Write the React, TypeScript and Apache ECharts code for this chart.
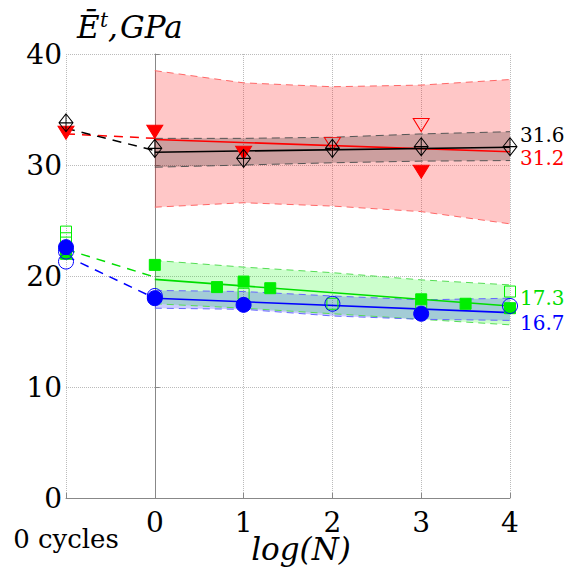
import React, { useEffect, useRef } from 'react';
import * as echarts from 'echarts';

// ---------- data ----------
const baselineLabel = '0 cycles';
const baselineX = -1;
const yTitleMain = 'Ē';
const yTitleSup = 't';
const yTitleComma = ',';
const yTitleUnit = 'GPa';
const xTitle = 'log(N)';

const bandX = [0, 1, 2, 3, 4];
const redHi = [38.5, 37.4, 37.05, 37.2, 37.7];
const redLo = [26.2, 26.6, 26.3, 25.8, 24.7];
const blackHi = [32.4, 32.4, 32.5, 32.8, 33.0];
const blackLo = [29.8, 30.0, 30.2, 30.35, 30.4];
const greenHi = [21.4, 20.8, 20.3, 19.65, 19.2];
const greenLo = [17.5, 17.1, 16.6, 16.1, 15.6];
const blueHi = [18.7, 18.6, 18.2, 17.85, 18.0];
const blueLo = [17.1, 17.0, 16.4, 16.1, 16.0];

const fitX = [0, 4];
const redFit = [32.3, 31.2];
const blackFit = [31.15, 31.6];
const greenFit = [19.7, 17.3];
const blueFit = [18.0, 16.7];

const linkX = [-1, 0];
const redLink = [32.8, 32.4];
const blackLink = [33.3, 31.3];
const greenLink = [22.4, 19.9];
const blueLink = [21.8, 18.0];

const redFilled = [[-1, 32.9], [0, 33.0], [1, 31.1], [3, 29.4]];
const redOpen = [[2, 31.9], [3, 33.6]];
const blackDiamonds = [[-1, 33.8], [0, 31.5], [1, 30.6], [2, 31.5], [3, 31.65], [4, 31.65]];
const greenFilled = [[-1, 22.0], [0, 21.0], [0.7, 19.0], [1, 19.5], [1.3, 18.9], [3, 17.9], [3.5, 17.5], [4, 17.1]];
const greenOpen = [[-1, 24.0], [-1, 23.4], [1, 18.4], [2, 17.5], [3, 17.2], [4, 18.6]];
const blueFilled = [[-1, 22.6], [0, 18.0], [1, 17.4], [3, 16.6]];
const blueOpen = [[-1, 22.2], [-1, 21.3], [0, 18.2], [2, 17.5], [4, 17.3]];

// ---------- helpers ----------
const SERIF = 'DejaVu Serif';
const pair = (xs: number[], ys: number[]) => xs.map((x, i) => [x, ys[i]]);

function band(lo: number[], hi: number[], fill: string) {
  return {
    type: 'custom',
    silent: true,
    z: 1,
    data: bandX.map((x, i) => [x, lo[i], hi[i]]),
    encode: { x: 0, y: [1, 2] },
    renderItem: (params: any, api: any) => {
      if (params.dataIndex !== 0) return null;
      const pts: number[][] = [];
      for (let i = 0; i < bandX.length; i++) pts.push(api.coord([bandX[i], hi[i]]));
      for (let i = bandX.length - 1; i >= 0; i--) pts.push(api.coord([bandX[i], lo[i]]));
      return { type: 'polygon', shape: { points: pts }, style: { fill } };
    },
  };
}

function edge(ys: number[], color: string, dash: number[]) {
  return {
    type: 'line', silent: true, z: 2, symbol: 'none',
    data: pair(bandX, ys),
    lineStyle: { color, width: 1, type: dash },
  };
}

function link(ys: number[], color: string) {
  return {
    type: 'line', silent: true, z: 3, symbol: 'none',
    data: pair(linkX, ys),
    lineStyle: { color, width: 1.5, type: [9, 7] },
  };
}

function fit(ys: number[], color: string, dy: number) {
  return {
    type: 'line', silent: true, z: 3, symbol: 'none',
    data: pair(fitX, ys),
    lineStyle: { color, width: 1.6 },
    endLabel: {
      show: true,
      formatter: (p: any) => Number(p.value[1]).toFixed(1),
      color, fontSize: 20, fontFamily: SERIF,
      distance: 10, offset: [0, dy],
    },
  };
}

function marks(data: number[][], symbol: string, size: any, fill: string, stroke: string, rotate = 0) {
  return {
    type: 'scatter', silent: true, z: 4,
    data, symbol, symbolSize: size, symbolRotate: rotate,
    itemStyle: { color: fill, borderColor: stroke, borderWidth: 1, opacity: 1 },
  };
}

const DIAMOND_PLUS = 'path://M5,0 L10,7 L5,14 L0,7 Z M5,0 L5,14 M0,7 L10,7';

function titleText(text: string, x: number, y: number, size: number) {
  return {
    type: 'text', x, y, silent: true,
    style: {
      text, fontSize: size, fontStyle: 'italic', fontFamily: SERIF, fill: '#000',
      align: 'left', verticalAlign: 'middle',
    },
  };
}

export default function App() {
  const ref = useRef<HTMLDivElement>(null);
  useEffect(() => {
    if (!ref.current) return;
    const chart = echarts.init(ref.current, null, { renderer: 'svg' });
    const none = 'rgba(0,0,0,0)';
    chart.setOption({
      animation: false,
      backgroundColor: '#fff',
      grid: { left: 66, top: 54, right: 60, bottom: 77, outerBoundsMode: 'none', containLabel: false },
      xAxis: {
        type: 'value', min: -1, max: 4, interval: 1,
        name: xTitle, nameLocation: 'middle', nameGap: 35, nameMoveOverlap: false,
        nameTextStyle: {
          fontSize: 31, fontStyle: 'italic', fontFamily: SERIF, color: '#000',
          padding: [0, 0, 0, 26],
        },
        axisLine: { show: true, lineStyle: { color: '#888', width: 1 } },
        axisTick: { show: true, inside: true, length: 5, lineStyle: { color: '#888' } },
        splitLine: { show: true, lineStyle: { color: '#bbb', type: 'dotted', width: 1 } },
        axisLabel: {
          fontSize: 28, fontFamily: SERIF, color: '#000', margin: 10,
          showMinLabel: true, showMaxLabel: true,
          formatter: (v: number) => (v === baselineX ? '' : String(v)),
        },
      },
      yAxis: {
        type: 'value', min: 0, max: 40, interval: 10,
        axisLine: { show: true, lineStyle: { color: '#888', width: 1 } },
        axisTick: { show: true, inside: true, length: 5, lineStyle: { color: '#888' } },
        splitLine: { show: true, lineStyle: { color: '#bbb', type: 'dotted', width: 1 } },
        axisLabel: { fontSize: 28, fontFamily: SERIF, color: '#000', margin: 4 },
      },
      graphic: [
        titleText(yTitleMain, 77, 27, 31),
        titleText(yTitleSup, 100, 20, 20),
        titleText(yTitleComma, 108, 27, 31),
        titleText(yTitleUnit, 120, 27, 31),
      ],
      series: [
        band(redLo, redHi, 'rgba(255,0,0,0.22)'),
        band(blackLo, blackHi, 'rgba(0,0,0,0.2)'),
        band(greenLo, greenHi, 'rgba(0,255,0,0.2)'),
        band(blueLo, blueHi, 'rgba(0,0,255,0.2)'),
        edge(redHi, '#ff6666', [7, 5]),
        edge(redLo, '#ff6666', [7, 5]),
        edge(blackHi, '#555', [8, 5]),
        edge(blackLo, '#555', [8, 5]),
        edge(greenHi, '#55dd55', [7, 5]),
        edge(greenLo, '#55dd55', [7, 5]),
        edge(blueHi, '#6666ff', [7, 5]),
        edge(blueLo, '#6666ff', [7, 5]),
        link(redLink, '#ff0000'),
        link(blackLink, '#000'),
        link(greenLink, '#00dd00'),
        link(blueLink, '#0000ff'),
        fit(redFit, '#ff0000', 6),
        fit(blackFit, '#000000', -12),
        fit(greenFit, '#00dd00', -8),
        fit(blueFit, '#0000ff', 10),
        marks(greenOpen, 'rect', 11, none, '#00ee00'),
        marks(greenFilled, 'rect', 11, '#00ee00', '#00ee00'),
        marks(blueFilled, 'circle', 15, '#0000ff', '#0000ff'),
        marks(blueOpen, 'circle', 15, none, '#0000ff'),
        marks(redFilled, 'triangle', [16, 13], '#ff0000', '#ff0000', 180),
        marks(redOpen, 'triangle', [16, 13], none, '#ff0000', 180),
        marks(blackDiamonds, DIAMOND_PLUS, [14, 18], none, '#000'),
      ],
    });
    // place the baseline ("0 cycles") tick label under x = -1 using the axis scale
    const p = chart.convertToPixel({ xAxisIndex: 0, yAxisIndex: 0 }, [baselineX, 0]) as number[];
    if (p && isFinite(p[0])) {
      chart.setOption({
        graphic: [
          titleText(yTitleMain, 77, 27, 31),
          titleText(yTitleSup, 100, 20, 20),
          titleText(yTitleComma, 108, 27, 31),
          titleText(yTitleUnit, 120, 27, 31),
          {
            type: 'text', x: p[0], y: p[1] + 41, silent: true,
            style: {
              text: baselineLabel, fontSize: 26, fontFamily: SERIF, fill: '#000',
              align: 'center', verticalAlign: 'middle',
            },
          },
        ],
      });
    }
    return () => chart.dispose();
  }, []);
  return (
    <div
      ref={ref}
      style={{ position: 'fixed', left: 0, top: 0, width: 570, height: 575, background: '#fff' }}
    />
  );
}
